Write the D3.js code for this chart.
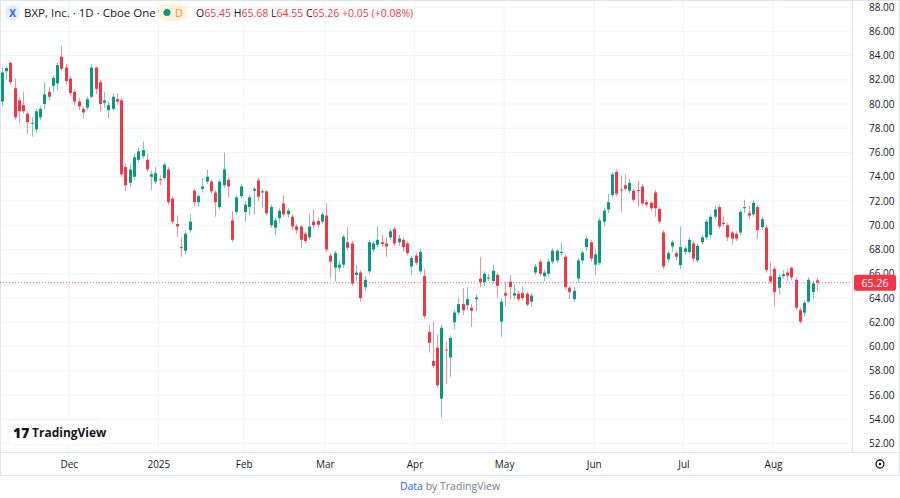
<!DOCTYPE html>
<html><head><meta charset="utf-8">
<script src="https://cdn.jsdelivr.net/npm/d3@7/dist/d3.min.js"></script>
<style>body{margin:0;background:#fff;font-family:"Open Sans",Roboto,sans-serif}</style>
</head><body><svg id="c" width="900" height="498"></svg>
<script>
const opens=[80.2,82.7,83.4,81.3,80.3,79.9,79.2,78.4,77.9,78.9,80.0,81.0,81.5,81.7,83.9,83.0,82.1,81.0,80.2,79.6,79.7,80.6,83.0,81.8,80.1,79.5,79.6,80.4,80.3,74.8,73.5,74.0,75.4,75.7,75.4,74.0,73.6,73.8,73.9,74.6,72.2,70.1,68.2,67.9,69.6,72.85,71.9,73.0,73.6,73.6,72.7,71.5,73.3,73.75,70.4,71.1,72.4,71.1,71.5,72.85,73.7,72.7,72.8,70.0,69.8,70.6,71.8,70.9,70.7,69.9,69.9,69.3,69.0,70.3,70.35,70.3,70.8,67.5,66.5,66.5,66.75,68.6,68.5,65.9,66.1,64.9,66.2,68.0,68.4,68.6,68.5,69.0,69.7,68.6,68.8,68.5,66.6,67.5,66.2,65.8,61.2,58.8,59.9,55.7,59.75,59.1,62.0,62.8,63.5,63.4,63.2,63.9,65.6,65.3,65.6,65.4,65.9,62.05,64.4,65.35,64.2,64.35,64.4,64.35,63.7,66.1,67.0,65.8,66.0,67.0,67.1,67.7,67.4,64.85,63.9,65.6,67.1,68.2,68.6,66.75,66.9,70.3,71.3,72.5,74.4,72.95,73.3,72.85,72.85,72.9,73.2,71.9,71.85,72.7,71.35,69.4,67.2,68.25,67.7,66.7,67.8,67.8,68.5,67.1,68.6,69.0,69.2,70.7,71.5,70.2,70.0,69.4,69.3,69.4,71.4,71.0,70.9,71.5,69.85,69.8,65.8,66.4,64.85,65.8,66.1,66.5,65.5,63.0,62.8,63.7,64.5,65.45];
const highs=[83.0,83.1,83.5,82.1,80.6,81.0,79.4,78.9,79.6,79.8,81.8,81.4,82.4,83.4,84.8,83.3,82.3,81.2,80.5,79.8,80.6,83.3,83.1,82.0,81.0,80.2,80.9,80.9,80.5,75.1,75.0,75.9,76.4,76.9,75.9,74.5,74.8,74.1,75.2,74.8,72.4,70.8,69.0,69.5,70.9,73.0,72.6,73.9,74.6,73.8,72.9,73.8,76.0,74.0,71.2,72.5,73.4,72.0,72.5,73.2,73.9,73.0,72.9,71.7,70.6,71.4,72.5,71.4,70.9,70.1,70.0,69.5,70.9,71.3,70.6,71.1,71.8,67.7,67.9,67.0,69.2,69.9,68.7,66.7,66.3,65.8,68.8,68.7,69.9,69.2,69.0,69.7,69.9,69.2,69.0,68.7,67.5,67.7,68.0,66.4,61.8,62.0,61.0,61.8,60.4,60.9,63.0,64.0,64.8,64.9,63.5,64.3,67.4,66.2,66.0,66.75,66.1,64.0,65.3,65.9,65.1,64.6,65.0,64.5,64.4,66.8,67.2,66.3,67.2,68.1,68.0,68.6,67.6,65.0,64.9,67.3,67.9,69.1,68.8,68.0,70.6,71.4,72.6,74.4,74.6,74.1,74.2,73.8,73.0,73.65,73.4,72.1,72.0,72.9,71.5,69.6,67.9,68.8,67.9,69.9,68.3,69.0,68.7,68.5,69.2,70.5,70.9,71.6,71.7,70.8,70.2,69.5,69.5,71.3,72.1,71.6,72.1,71.7,70.7,70.0,67.0,66.6,65.95,66.3,66.4,66.6,65.7,63.2,63.8,65.7,65.4,65.68];
const lows=[79.8,82.0,81.6,78.7,78.5,79.2,77.5,77.3,77.6,78.7,79.6,80.3,81.0,81.1,82.7,81.6,80.7,79.9,79.5,78.8,79.5,80.5,80.8,79.4,79.7,78.8,79.4,79.9,74.0,72.8,73.2,73.8,75.2,75.5,74.4,72.9,73.4,73.3,73.7,71.7,70.1,69.05,67.4,67.6,69.4,71.6,71.5,72.7,73.4,72.6,70.7,71.3,73.1,72.3,68.6,70.9,72.2,70.3,70.8,70.9,72.0,71.4,70.8,69.8,69.2,70.2,70.7,70.6,69.6,69.3,68.15,68.5,68.8,69.7,69.8,70.1,67.8,65.7,65.35,66.2,66.5,67.9,65.0,65.4,63.7,64.6,66.0,67.8,68.2,68.2,67.4,68.8,68.3,68.3,67.8,67.5,65.9,66.7,66.0,62.3,59.5,58.2,56.6,54.15,56.9,57.5,61.4,62.6,62.6,63.0,61.6,62.9,64.9,65.0,65.4,65.2,64.0,60.8,63.3,63.9,63.9,63.7,63.8,63.3,63.3,65.9,65.8,65.4,65.8,66.8,66.9,67.5,64.7,63.9,63.7,65.3,66.8,67.9,67.0,65.9,66.7,69.9,71.0,72.3,72.4,71.1,72.8,72.6,71.9,71.5,71.6,71.5,71.2,70.7,70.1,66.4,66.9,67.8,67.1,66.4,67.6,67.6,67.0,66.9,68.4,68.8,69.0,70.5,69.7,69.9,68.7,68.4,68.7,69.2,71.0,70.5,70.7,68.9,69.6,66.1,65.2,63.3,64.3,65.6,65.4,65.5,63.0,61.9,62.5,63.6,63.9,64.55];
const closes=[82.6,82.97,81.8,78.9,79.4,79.4,78.5,78.45,79.4,79.6,80.8,80.6,82.15,83.2,82.9,81.9,80.9,80.2,79.8,79.3,80.4,83.0,81.25,80.0,80.3,79.9,80.6,80.2,74.2,73.3,74.6,75.6,76.1,76.2,74.6,74.2,74.3,73.75,75.0,71.9,70.3,69.9,68.15,69.3,70.3,71.9,72.4,73.2,74.0,72.8,71.9,73.6,74.6,73.2,68.8,72.3,73.2,71.7,72.3,73.0,72.35,72.8,71.0,71.5,70.4,71.2,70.9,71.2,69.9,69.6,68.8,68.7,69.9,70.0,70.05,70.9,68.0,67.0,67.7,66.75,69.05,68.15,65.2,66.1,64.0,65.5,68.6,68.5,68.8,68.45,68.25,69.5,68.5,68.9,68.2,67.7,67.3,66.9,67.8,62.5,60.3,58.4,56.8,61.55,59.7,60.7,62.8,63.5,63.0,63.9,62.95,64.05,65.3,66.0,65.7,66.25,65.0,63.7,64.2,64.9,64.4,63.9,64.0,63.45,64.2,66.6,66.0,66.1,67.0,67.9,67.9,67.8,64.9,64.5,64.6,67.1,67.75,68.9,67.25,67.6,70.4,71.2,71.9,74.2,72.6,72.9,73.0,73.5,72.1,72.85,71.8,71.7,71.4,71.4,70.3,66.6,67.7,68.6,67.4,68.2,68.1,68.8,67.25,68.3,69.0,70.3,70.7,71.3,69.9,70.1,69.0,68.9,68.9,71.1,71.5,70.8,71.85,69.6,70.5,66.3,65.35,64.5,65.75,65.95,65.85,65.7,63.2,62.05,63.6,65.5,65.2,65.26];
const monthLabels=["Dec","2025","Feb","Mar","Apr","May","Jun","Jul","Aug"];
const monthStart=[15,36,56,75,96,117,138,159,180];
const priceTicks=d3.range(52,88.01,2);
const lastPrice=65.26;

const svg=d3.select("#c");
const UP="#089981",DN="#f23645";
const x=d3.scaleLinear().domain([0,191]).range([1.7,817]);
const y=d3.scaleLinear().domain([52,88]).range([443.5,7]);
const plotR=852, plotB=452;
svg.append("g").selectAll("line").data(priceTicks).join("line")
 .attr("x1",0).attr("x2",plotR).attr("y1",d=>y(d)).attr("y2",d=>y(d)).attr("stroke","#f0f3fa");
svg.append("g").selectAll("line").data(monthStart).join("line")
 .attr("x1",d=>x(d)+3).attr("x2",d=>x(d)+3).attr("y1",0).attr("y2",plotB).attr("stroke","#f0f3fa");
svg.append("line").attr("x1",plotR+0.5).attr("x2",plotR+0.5).attr("y1",0).attr("y2",plotB).attr("stroke","#e0e3eb");
svg.append("line").attr("x1",0).attr("x2",900).attr("y1",plotB+0.5).attr("y2",plotB+0.5).attr("stroke","#e0e3eb");
svg.append("rect").attr("x",0.5).attr("y",0.5).attr("width",899).attr("height",475).attr("fill","none").attr("stroke","#e0e3eb");
const ya=d3.axisRight(y).tickValues(priceTicks).tickFormat(d3.format(".2f")).tickSize(0);
svg.append("g").attr("transform",`translate(${plotR+14},0)`).call(ya)
 .call(g=>g.select(".domain").remove())
 .call(g=>g.selectAll("text").attr("fill","#131722").style("font-size","10px").attr("font-family","Open Sans"));
const xa=d3.axisBottom(x).tickValues(monthStart).tickFormat((d,i)=>monthLabels[i]).tickSize(0);
svg.append("g").attr("transform",`translate(3,${plotB+6})`).call(xa)
 .call(g=>g.select(".domain").remove())
 .call(g=>g.selectAll("text").attr("fill","#131722").style("font-size","10px").attr("font-family","Open Sans"));
const idx=d3.range(closes.length);
const col=i=>closes[i]>=opens[i]?UP:DN;
svg.append("g").selectAll("line").data(idx).join("line")
 .attr("x1",i=>Math.round(x(i))+0.5).attr("x2",i=>Math.round(x(i))+0.5)
 .attr("y1",i=>y(highs[i])).attr("y2",i=>y(lows[i])).attr("stroke",col).attr("stroke-opacity",0.55);
svg.append("g").selectAll("rect").data(idx).join("rect")
 .attr("x",i=>Math.round(x(i))-1).attr("width",3)
 .attr("y",i=>y(Math.max(opens[i],closes[i])))
 .attr("height",i=>Math.max(1,Math.abs(y(opens[i])-y(closes[i])))).attr("fill",col);
svg.append("line").attr("x1",0).attr("x2",plotR).attr("y1",y(lastPrice)).attr("y2",y(lastPrice))
 .attr("stroke",DN).attr("stroke-dasharray","1,2").attr("stroke-width",0.8);
svg.append("rect").attr("x",plotR+2).attr("y",y(lastPrice)-8).attr("width",42).attr("height",16).attr("rx",2).attr("fill",DN);
svg.append("text").attr("x",plotR+23).attr("y",y(lastPrice)+4).attr("text-anchor","middle").attr("fill","#fff")
 .style("font-size","10.5px").text(d3.format(".2f")(lastPrice));
svg.append("rect").attr("x",5).attr("y",5).attr("width",15).attr("height",15).attr("rx",7.5).attr("fill","#e3effd");
svg.append("text").attr("x",12.5).attr("y",16.5).attr("text-anchor","middle").attr("fill","#2962ff").style("font-size","10px").style("font-weight","bold").text("X");
svg.append("text").attr("x",24).attr("y",17).attr("fill","#131722").style("font-size","11.5px").text("BXP, Inc. · 1D · Cboe One");
svg.append("rect").attr("x",158).attr("y",4).attr("width",30).attr("height",17).attr("rx",8.5).attr("fill","#fff3e0");
svg.append("circle").attr("cx",167).attr("cy",12.5).attr("r",3.5).attr("fill",UP);
svg.append("text").attr("x",179).attr("y",17).attr("text-anchor","middle").attr("fill","#ff9800").style("font-size","11px").text("D");
const leg=svg.append("text").attr("x",196).attr("y",16.5).style("font-size","10.5px");
[["O","65.45"],[" H","65.68"],[" L","64.55"],[" C","65.26"]].forEach(([a,b])=>{
 leg.append("tspan").attr("fill","#131722").text(a);leg.append("tspan").attr("fill",DN).text(b);});
leg.append("tspan").attr("fill",DN).text(" +0.05 (+0.08%)");
const lg=svg.append("g");
lg.append("rect").attr("x",8).attr("y",420).attr("width",93).attr("height",25).attr("rx",5).attr("fill","#fff").attr("stroke","#f0f3fa");
lg.append("text").attr("x",13).attr("y",438).attr("fill","#131722").style("font-size","14px").style("font-weight","900").text("17");
lg.append("text").attr("x",32).attr("y",437).attr("fill","#131722").style("font-size","12px").style("font-weight","bold").text("TradingView");
svg.append("circle").attr("cx",880).attr("cy",464).attr("r",4).attr("fill","none").attr("stroke","#131722").attr("stroke-width",1.3);
svg.append("circle").attr("cx",880).attr("cy",464).attr("r",1.3).attr("fill","#131722");
const ft=svg.append("text").attr("x",450).attr("y",490).attr("text-anchor","middle").style("font-size","10.5px");
ft.append("tspan").attr("fill","#2962ff").text("Data");
ft.append("tspan").attr("fill","#787b86").text(" by TradingView");
</script></body></html>
